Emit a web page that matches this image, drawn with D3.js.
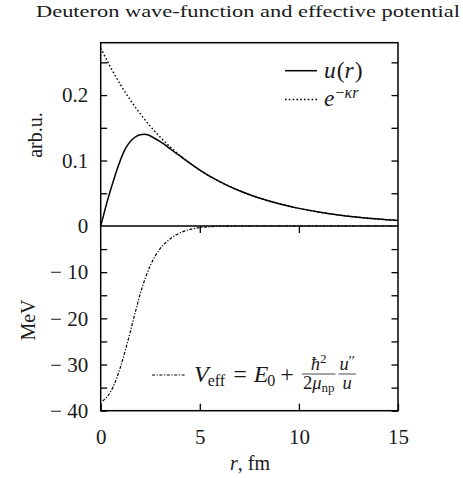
<!DOCTYPE html>
<html>
<head>
<meta charset="utf-8">
<script src="https://cdn.jsdelivr.net/npm/d3@7"></script>
<style>
  html, body { margin: 0; padding: 0; background: #fff; }
  svg { display: block; }
</style>
</head>
<body>
<script>
// ---- data ----
const rU = [0,0.2,0.4,0.6,0.8,1.0,1.2,1.4,1.6,1.8,2.0,2.2,2.4,2.6,2.8,3.0,3.25,3.5,4.0,4.5,5,6,7,8,9,10,11,12,13,14,15];
const uVals = [0,0.023,0.045,0.065,0.084,0.101,0.1155,0.1255,0.1325,0.137,0.1395,0.140,0.139,0.136,0.1325,0.129,0.124,0.118,0.107,0.096,0.0855,0.0678,0.0538,0.0427,0.0339,0.0269,0.0213,0.0169,0.0134,0.0106,0.0084];
const rExp = [0,0.5,1,1.5,2,2.5,3,3.5,4,4.5,5,6,7,8,9,10,11,12,13,14,15];
const expVals = [0.272,0.2423,0.2158,0.1922,0.1712,0.1525,0.1358,0.1210,0.1077,0.0960,0.0855,0.0678,0.0538,0.0427,0.0339,0.0269,0.0213,0.0169,0.0134,0.0106,0.0084];
const rV = [0.1,0.3,0.5,0.75,1.0,1.25,1.5,1.75,2.0,2.25,2.5,2.75,3.0,3.25,3.5,3.75,4.0,4.5,5.0,5.5,6,7,10,15];
const vVals = [-37.9,-37.1,-35.9,-33.6,-30.5,-26.8,-22.8,-18.6,-14.6,-11.3,-8.6,-6.5,-4.9,-3.7,-2.8,-2.05,-1.5,-0.75,-0.35,-0.15,-0.05,0,0,0];
const xTicks = [0,5,10,15];
const yTopTicks = [0.05,0.1,0.15,0.2,0.25];
const yTopLabels = {0.1:"0.1",0.2:"0.2"};
const yBotTicks = [-40,-35,-30,-25,-20,-15,-10,-5];
const yBotLabels = {"-40":"\u2212 40","-30":"\u2212 30","-20":"\u2212 20","-10":"\u2212 10"};
const titleText = "Deuteron wave-function and effective potential";

const W = 463, H = 478;
const FONT = "'Liberation Serif', 'Times New Roman', serif";
const INK = "#1a1a1a";
const svg = d3.select("body").append("svg").attr("width", W).attr("height", H)
  .attr("font-family", FONT);
svg.append("rect").attr("width", W).attr("height", H).attr("fill", "#fff");

const L = 100.7, R = 398, T = 42.7, Z = 226, B = 410.7;
const x = d3.scaleLinear().domain([0, 15]).range([L, R]);
const yTop = d3.scaleLinear().domain([0, 0.28]).range([Z, T]);
const yBot = d3.scaleLinear().domain([-40, 0]).range([B, Z]);

function styleAxis(g, size) {
  g.attr("font-family", FONT);
  g.select(".domain").remove();
  g.selectAll("line").attr("stroke", "#000").attr("stroke-width", 1.3);
  g.selectAll("text").attr("font-family", FONT).attr("font-size", size).attr("fill", INK);
}

// left axes
svg.append("g").attr("transform", `translate(${L},0)`)
  .call(d3.axisLeft(yTop).tickValues(yTopTicks).tickSize(-6.5).tickPadding(12.5)
    .tickFormat(d => yTopLabels[d] || ""))
  .call(g => styleAxis(g, 21));
svg.append("g").attr("transform", `translate(${L},0)`)
  .call(d3.axisLeft(yBot).tickValues(yBotTicks).tickSize(-6.5).tickPadding(12.5)
    .tickFormat(d => yBotLabels[d] || ""))
  .call(g => styleAxis(g, 21));
// zero label
svg.append("text").attr("x", L - 12.5).attr("y", Z).attr("dy", "0.32em")
  .attr("text-anchor", "end").attr("font-size", 21).attr("fill", INK).text("0");

// right mirror ticks
svg.append("g").attr("transform", `translate(${R},0)`)
  .call(d3.axisRight(yTop).tickValues(yTopTicks).tickSize(-6.5).tickFormat(""))
  .call(g => styleAxis(g, 21));
svg.append("g").attr("transform", `translate(${R},0)`)
  .call(d3.axisRight(yBot).tickValues(yBotTicks).tickSize(-6.5).tickFormat(""))
  .call(g => styleAxis(g, 21));

// bottom axis
svg.append("g").attr("transform", `translate(0,${B})`)
  .call(d3.axisBottom(x).tickValues(xTicks).tickSize(-7).tickPadding(18.5).tickFormat(d3.format("d")))
  .call(g => styleAxis(g, 21));
// ticks on zero line pointing down into lower panel
svg.append("g").attr("transform", `translate(0,${Z})`)
  .call(d3.axisBottom(x).tickValues([5, 10]).tickSize(7).tickFormat(""))
  .call(g => styleAxis(g, 21));

// frame and zero line
svg.append("rect").attr("x", L).attr("y", T).attr("width", R - L).attr("height", B - T)
  .attr("fill", "none").attr("stroke", "#000").attr("stroke-width", 1.5);
svg.append("line").attr("x1", L).attr("x2", R).attr("y1", Z).attr("y2", Z)
  .attr("stroke", "#000").attr("stroke-width", 1.5);

// curves
const lineTop = (rs) => d3.line().x((d, i) => x(rs[i])).y(d => yTop(d)).curve(d3.curveMonotoneX);
const lineBot = (rs) => d3.line().x((d, i) => x(rs[i])).y(d => yBot(d)).curve(d3.curveMonotoneX);

svg.append("path").attr("d", lineTop(rExp)(expVals)).attr("fill", "none")
  .attr("stroke", "#000").attr("stroke-width", 1.4).attr("stroke-dasharray", "1.6,2.2");
svg.append("path").attr("d", lineTop(rU)(uVals)).attr("fill", "none")
  .attr("stroke", "#000").attr("stroke-width", 1.5);
svg.append("path").attr("d", lineBot(rV)(vVals)).attr("fill", "none")
  .attr("stroke", "#000").attr("stroke-width", 1.2).attr("stroke-dasharray", "3,1.6,1.2,1.6");

// math text as a single text element with tspans; returns right edge
function mathText(x0, y0, pieces) {
  const t = svg.append("text").attr("x", x0).attr("y", y0).attr("fill", INK);
  let cur = 0;
  pieces.forEach(p => {
    const s = t.append("tspan").attr("font-size", p.size || 21)
      .attr("font-style", p.it ? "italic" : "normal").text(p.t);
    const want = p.dy || 0;
    if (want !== cur) { s.attr("dy", want - cur); cur = want; }
    if (p.dx) s.attr("dx", p.dx);
  });
  const bb = t.node().getBBox();
  return bb.x + bb.width;
}

// top legend
const ly1 = 70.7, ly2 = 99.5;
svg.append("line").attr("x1", 285).attr("x2", 317).attr("y1", ly1).attr("y2", ly1)
  .attr("stroke", "#000").attr("stroke-width", 1.5);
svg.append("line").attr("x1", 285).attr("x2", 317).attr("y1", ly2).attr("y2", ly2)
  .attr("stroke", "#000").attr("stroke-width", 1.4).attr("stroke-dasharray", "1.6,2.2");
mathText(324, ly1 + 7, [{t:"u",it:true,size:23.5},{t:"(",size:23.5,dx:1},{t:"r",it:true,size:23.5},{t:")",size:23.5,dx:1}]);
mathText(324, ly2 + 6, [{t:"e",it:true,size:23.5},{t:"\u2212",size:16,dy:-8,dx:1},{t:"\u03ba",it:true,size:16,dy:-8},{t:"r",it:true,size:16,dy:-8}]);

// bottom legend
const ly3 = 375;
svg.append("line").attr("x1", 152).attr("x2", 185).attr("y1", ly3).attr("y2", ly3)
  .attr("stroke", "#000").attr("stroke-width", 1.2).attr("stroke-dasharray", "3,1.6,1.2,1.6");
let cx = mathText(194, ly3 + 7, [
  {t:"V",it:true,size:24},{t:"eff",size:16,dy:4,dx:-1},{t:"=",size:24,dy:0,dx:8},
  {t:"E",it:true,size:24,dx:7},{t:"0",size:16,dy:4,dx:-1},{t:"+",size:24,dy:0,dx:5}
]) + 9;
// fraction hbar^2 / 2 mu_np
const fs = 18.5;
const fracTop = ly3 - 5, fracBar = ly3 - 1, fracBot = ly3 + 13.5;
const num1 = svg.append("text").attr("y", fracTop).attr("font-size", fs).attr("fill", INK);
num1.append("tspan").attr("font-style", "italic").text("\u0127");
num1.append("tspan").attr("font-size", 13).attr("dy", -7).text("2");
const den1 = svg.append("text").attr("y", fracBot).attr("font-size", fs).attr("fill", INK);
den1.append("tspan").text("2");
den1.append("tspan").attr("font-style", "italic").text("\u03bc");
den1.append("tspan").attr("font-size", 13).attr("dy", 3).text("np");
const w1 = Math.max(num1.node().getComputedTextLength(), den1.node().getComputedTextLength());
num1.attr("x", cx + (w1 - num1.node().getComputedTextLength()) / 2);
den1.attr("x", cx + (w1 - den1.node().getComputedTextLength()) / 2);
svg.append("line").attr("x1", cx - 1).attr("x2", cx + w1 + 1).attr("y1", fracBar).attr("y2", fracBar)
  .attr("stroke", INK).attr("stroke-width", 0.8);
cx += w1 + 5;
const num2 = svg.append("text").attr("y", fracTop).attr("font-size", fs).attr("fill", INK);
num2.append("tspan").attr("font-style", "italic").text("u");
num2.append("tspan").attr("font-size", 14).attr("dy", -4).text("\u2032\u2032");
const den2 = svg.append("text").attr("y", fracBot).attr("font-size", fs).attr("fill", INK)
  .attr("font-style", "italic").text("u");
const w2 = Math.max(num2.node().getComputedTextLength(), den2.node().getComputedTextLength());
num2.attr("x", cx + (w2 - num2.node().getComputedTextLength()) / 2);
den2.attr("x", cx + (w2 - den2.node().getComputedTextLength()) / 2);
svg.append("line").attr("x1", cx - 1).attr("x2", cx + w2 + 1).attr("y1", fracBar).attr("y2", fracBar)
  .attr("stroke", INK).attr("stroke-width", 0.8);

// axis labels
svg.append("text").attr("transform", "translate(41.5,135) rotate(-90)").attr("text-anchor", "middle")
  .attr("font-size", 20).attr("fill", INK).text("arb.u.");
svg.append("text").attr("transform", "translate(35,320) rotate(-90)").attr("text-anchor", "middle")
  .attr("font-size", 20).attr("fill", INK).text("MeV");
const xl = svg.append("text").attr("x", 250).attr("y", 470).attr("text-anchor", "middle")
  .attr("font-size", 20).attr("fill", INK);
xl.append("tspan").attr("font-style", "italic").text("r");
xl.append("tspan").text(", fm");

// title
svg.append("text").attr("x", 248).attr("y", 17.3).attr("text-anchor", "middle")
  .attr("font-size", 17.5).attr("fill", INK)
  .attr("textLength", 424).attr("lengthAdjust", "spacingAndGlyphs").text(titleText);
</script>
</body>
</html>
